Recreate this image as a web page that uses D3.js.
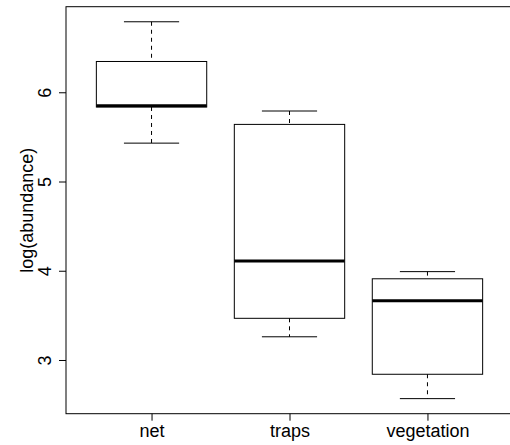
<!DOCTYPE html>
<html>
<head>
<meta charset="utf-8">
<script src="https://cdn.jsdelivr.net/npm/d3@7"></script>
<style>
  html, body { margin: 0; padding: 0; background: #fff; }
  svg { display: block; }
  text { font-family: "Liberation Sans", Arial, Helvetica, sans-serif; }
</style>
</head>
<body>
<svg id="chart" width="510" height="445"></svg>
<script>
// ---- data (five-number summaries per group) ----
const categories   = ["net", "traps", "vegetation"];
const whiskerLow   = [5.43, 3.26, 2.567];
const q1           = [5.835, 3.467, 2.84];
const medians      = [5.85, 4.11, 3.664];
const q3           = [6.345, 5.64, 3.91];
const whiskerHigh  = [6.79, 5.79, 3.99];
const yTicks       = [3, 4, 5, 6];
const yLabel       = "log(abundance)";

const svg = d3.select("#chart");

// plot region (R-style, right edge extends beyond the window)
const pLeft = 66, pRight = 513, pTop = 6.7, pBottom = 413.7;

// R: xlim = c(0.5, n + 0.5) extended by 4%
const n = categories.length;
const xlo = 0.5 - 0.04 * n, xhi = n + 0.5 + 0.04 * n;
const xNum = d3.scaleLinear().domain([xlo, xhi]).range([pLeft, pRight]);
const x = d3.scalePoint().domain(categories).range([xNum(1), xNum(n)]);
const unit = xNum(1) - xNum(0);

// R: ylim = range(data) extended by 4%
const ymin = d3.min(whiskerLow), ymax = d3.max(whiskerHigh);
const pad = (ymax - ymin) * 0.04;
const y = d3.scaleLinear().domain([ymin - pad, ymax + pad]).range([pBottom, pTop]);

const boxHalf = 0.4 * unit, stapleHalf = 0.2 * unit;

const data = categories.map((c, i) => ({
  c, lo: whiskerLow[i], q1: q1[i], med: medians[i], q3: q3[i], hi: whiskerHigh[i]
}));

const g = svg.append("g");

data.forEach(d => {
  const cx = x(d.c);
  g.append("line").attr("x1", cx).attr("x2", cx)
    .attr("y1", y(d.hi)).attr("y2", y(d.q3))
    .attr("stroke", "#000").attr("stroke-width", 1).attr("stroke-dasharray", "4,4");
  g.append("line").attr("x1", cx).attr("x2", cx)
    .attr("y1", y(d.q1)).attr("y2", y(d.lo))
    .attr("stroke", "#000").attr("stroke-width", 1).attr("stroke-dasharray", "4,4");
  [d.hi, d.lo].forEach(v => {
    g.append("line").attr("x1", cx - stapleHalf).attr("x2", cx + stapleHalf)
      .attr("y1", y(v)).attr("y2", y(v))
      .attr("stroke", "#000").attr("stroke-width", 1);
  });
  g.append("rect").attr("x", cx - boxHalf).attr("y", y(d.q3))
    .attr("width", 2 * boxHalf).attr("height", y(d.q1) - y(d.q3))
    .attr("fill", "none").attr("stroke", "#000").attr("stroke-width", 1);
  g.append("line").attr("x1", cx - boxHalf).attr("x2", cx + boxHalf)
    .attr("y1", y(d.med)).attr("y2", y(d.med))
    .attr("stroke", "#000").attr("stroke-width", 3);
});

// frame
svg.append("rect").attr("x", pLeft).attr("y", pTop)
  .attr("width", pRight - pLeft).attr("height", pBottom - pTop)
  .attr("fill", "none").attr("stroke", "#000").attr("stroke-width", 1);

// y axis
const yAxis = svg.append("g").attr("transform", `translate(${pLeft},0)`)
  .call(d3.axisLeft(y).tickValues(yTicks).tickSize(7).tickFormat(d3.format("d")));
yAxis.select(".domain").remove();
yAxis.selectAll("text")
  .attr("transform", "rotate(-90)")
  .attr("x", 0).attr("y", -15.5).attr("dy", 0)
  .attr("text-anchor", "middle")
  .style("font-size", "18px").attr("fill", "#000");
yAxis.selectAll("line").attr("stroke", "#000");

// x axis
const xAxis = svg.append("g").attr("transform", `translate(0,${pBottom})`)
  .call(d3.axisBottom(x).tickSize(7));
xAxis.select(".domain").remove();
xAxis.selectAll("text").attr("y", 23.5).attr("dy", 0)
  .style("font-size", "18px").attr("fill", "#000");
xAxis.selectAll("line").attr("stroke", "#000");

// y label
svg.append("text")
  .attr("transform", `translate(33,${(pTop + pBottom) / 2}) rotate(-90)`)
  .attr("text-anchor", "middle")
  .style("font-size", "18px")
  .text(yLabel);
</script>
</body>
</html>
